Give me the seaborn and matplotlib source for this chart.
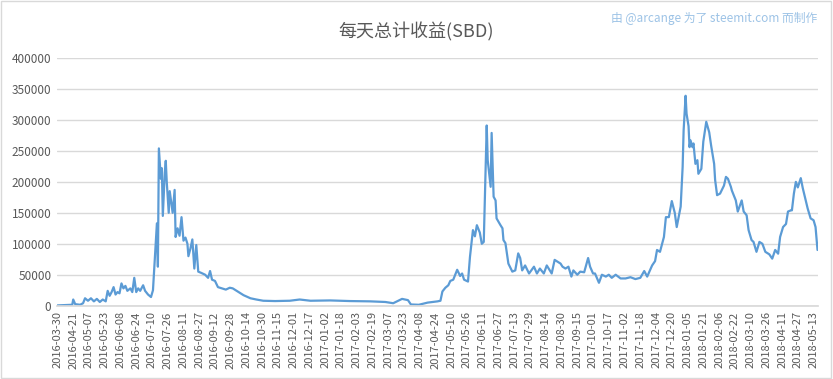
import numpy as np
import pandas as pd
import matplotlib
matplotlib.use("Agg")
import matplotlib.pyplot as plt
from matplotlib.patches import Rectangle
import seaborn as sns

sns.set_theme(style="white")
plt.rcParams['font.family'] = ['Noto Sans CJK SC', 'DejaVu Sans']

# category axis: one entry per day (2016-03-31 .. 04-05 are absent in the source)
days = ['2016-03-30'] + [d.strftime('%Y-%m-%d') for d in pd.date_range('2016-04-06', '2018-05-17')]
label_step = 16

# readings
sample_dates = [
    '2016-03-30', '2016-04-13', '2016-04-20', '2016-04-21', '2016-04-23', '2016-04-28',
    '2016-05-01', '2016-05-03', '2016-05-06', '2016-05-09', '2016-05-12', '2016-05-15',
    '2016-05-18', '2016-05-21', '2016-05-24', '2016-05-26', '2016-05-28', '2016-05-30',
    '2016-06-01', '2016-06-03', '2016-06-05', '2016-06-07', '2016-06-09', '2016-06-11',
    '2016-06-13', '2016-06-15', '2016-06-18', '2016-06-20', '2016-06-22', '2016-06-24',
    '2016-06-26', '2016-06-28', '2016-07-01', '2016-07-03', '2016-07-06', '2016-07-09',
    '2016-07-11', '2016-07-13', '2016-07-15', '2016-07-16', '2016-07-17', '2016-07-19',
    '2016-07-20', '2016-07-21', '2016-07-23', '2016-07-24', '2016-07-25', '2016-07-27',
    '2016-07-28', '2016-07-31', '2016-08-02', '2016-08-03', '2016-08-05', '2016-08-07',
    '2016-08-09', '2016-08-11', '2016-08-13', '2016-08-15', '2016-08-16', '2016-08-18',
    '2016-08-20', '2016-08-22', '2016-08-24', '2016-08-26', '2016-08-29', '2016-09-02',
    '2016-09-05', '2016-09-07', '2016-09-09', '2016-09-12', '2016-09-15', '2016-09-19',
    '2016-09-23', '2016-09-27', '2016-09-30', '2016-10-06', '2016-10-11', '2016-10-18',
    '2016-10-24', '2016-10-31', '2016-11-12', '2016-11-27', '2016-12-07', '2016-12-18',
    '2017-01-07', '2017-01-27', '2017-02-17', '2017-03-04', '2017-03-12', '2017-03-21',
    '2017-03-27', '2017-03-30', '2017-04-07', '2017-04-16', '2017-04-26', '2017-04-29',
    '2017-05-01', '2017-05-04', '2017-05-07', '2017-05-09', '2017-05-12', '2017-05-16',
    '2017-05-19', '2017-05-21', '2017-05-23', '2017-05-27', '2017-05-29', '2017-06-01',
    '2017-06-03', '2017-06-05', '2017-06-08', '2017-06-10', '2017-06-12', '2017-06-15',
    '2017-06-16', '2017-06-19', '2017-06-20', '2017-06-22', '2017-06-24', '2017-06-25',
    '2017-06-29', '2017-07-01', '2017-07-02', '2017-07-04', '2017-07-07', '2017-07-11',
    '2017-07-14', '2017-07-17', '2017-07-19', '2017-07-21', '2017-07-24', '2017-07-28',
    '2017-08-02', '2017-08-05', '2017-08-08', '2017-08-12', '2017-08-15', '2017-08-20',
    '2017-08-23', '2017-08-26', '2017-08-29', '2017-08-31', '2017-09-03', '2017-09-06',
    '2017-09-09', '2017-09-11', '2017-09-15', '2017-09-18', '2017-09-22', '2017-09-26',
    '2017-09-28', '2017-10-01', '2017-10-03', '2017-10-07', '2017-10-10', '2017-10-14',
    '2017-10-17', '2017-10-20', '2017-10-24', '2017-10-29', '2017-11-03', '2017-11-08',
    '2017-11-13', '2017-11-18', '2017-11-22', '2017-11-25', '2017-11-30', '2017-12-03',
    '2017-12-05', '2017-12-08', '2017-12-12', '2017-12-14', '2017-12-17', '2017-12-20',
    '2017-12-23', '2017-12-25', '2017-12-29', '2017-12-31', '2018-01-01', '2018-01-03',
    '2018-01-04', '2018-01-06', '2018-01-07', '2018-01-08', '2018-01-10', '2018-01-11',
    '2018-01-13', '2018-01-15', '2018-01-16', '2018-01-19', '2018-01-21', '2018-01-24',
    '2018-01-27', '2018-01-29', '2018-02-01', '2018-02-02', '2018-02-04', '2018-02-07',
    '2018-02-11', '2018-02-13', '2018-02-15', '2018-02-18', '2018-02-19', '2018-02-23',
    '2018-02-25', '2018-03-01', '2018-03-03', '2018-03-06', '2018-03-08', '2018-03-11',
    '2018-03-13', '2018-03-16', '2018-03-19', '2018-03-22', '2018-03-25', '2018-03-29',
    '2018-04-01', '2018-04-04', '2018-04-07', '2018-04-09', '2018-04-12', '2018-04-15',
    '2018-04-17', '2018-04-20', '2018-04-21', '2018-04-23', '2018-04-25', '2018-04-27',
    '2018-04-30', '2018-05-02', '2018-05-05', '2018-05-07', '2018-05-10', '2018-05-13',
    '2018-05-15', '2018-05-17',
]
income_sbd = [
    500, 1000, 1500, 10000, 2500, 1500,
    4000, 12000, 8000, 12000, 7000, 11000,
    6000, 10000, 7000, 24000, 16000, 22000,
    30000, 18000, 22000, 20000, 36000, 28000,
    32000, 24000, 28000, 22000, 45000, 22000,
    28000, 24000, 33000, 24000, 18000, 14000,
    25000, 78000, 133000, 63000, 254000, 205000,
    222000, 145000, 215000, 234000, 200000, 150000,
    185000, 150000, 187000, 111000, 125000, 113000,
    143000, 105000, 110000, 100000, 80000, 92000,
    107000, 60000, 98000, 55000, 53000, 50000,
    45000, 56000, 42000, 40000, 30000, 28000,
    26000, 29000, 28000, 22000, 17000, 12000,
    10000, 8000, 7500, 8000, 10000, 8000,
    8500, 7500, 7000, 6000, 4000, 11000,
    9000, 2000, 1500, 5000, 7000, 8000,
    23000, 29000, 33000, 40000, 42000, 58000,
    48000, 52000, 42000, 39000, 79000, 122000,
    112000, 130000, 118000, 100000, 103000, 291000,
    235000, 192000, 279000, 176000, 170000, 141000,
    130000, 125000, 106000, 101000, 68000, 55000,
    57000, 84500, 77000, 57000, 65000, 52000,
    63000, 52000, 60000, 52000, 65000, 52000,
    74000, 71000, 68000, 63000, 60000, 63000,
    47000, 57000, 50000, 55000, 54000, 77000,
    63000, 52000, 52000, 37000, 50000, 47000,
    50000, 45000, 50000, 44000, 44000, 46000,
    43000, 45000, 56000, 47000, 65000, 72000,
    90000, 87000, 111000, 143000, 143000, 169000,
    150000, 127000, 160000, 224000, 283000, 339000,
    310000, 290000, 256000, 267000, 256000, 262000,
    229000, 235000, 213000, 221000, 265000, 297000,
    280000, 258000, 229000, 203000, 178500, 181000,
    194000, 208000, 205000, 192000, 186000, 170000,
    152000, 170000, 152000, 146000, 122000, 106000,
    103000, 87000, 103000, 100000, 87000, 83000,
    76000, 90000, 84000, 111000, 127000, 132000,
    152000, 154000, 154000, 181000, 200000, 191000,
    206000, 190000, 170000, 157000, 141000, 138000,
    127000, 90000,
]

title = '每天总计收益(SBD)'
credit = '由 @arcange 为了 steemit.com 而制作'

df = pd.DataFrame({'date': sample_dates, 'sbd': income_sbd})
day_pos = {d: i for i, d in enumerate(days)}
df['pos'] = df['date'].map(day_pos)

fig = plt.figure(figsize=(8.33, 3.79), dpi=100)
ax = fig.add_axes([0.0684, 0.1934, 0.9136, 0.6536])

sns.lineplot(data=df, x='pos', y='sbd', ax=ax, color='#5B9BD5', linewidth=1.6)

ax.set_xlim(-0.5, len(days) - 0.5)
ax.set_ylim(0, 400000)
ax.set_yticks(np.arange(0, 400001, 50000))
ax.set_yticklabels([str(v) for v in range(0, 400001, 50000)], fontsize=8.5, color='#595959')
tick_pos = list(range(0, len(days), label_step))
ax.set_xticks(tick_pos)
ax.set_xticklabels([days[i] for i in tick_pos], rotation=90, fontsize=8, color='#595959')
ax.tick_params(axis='both', length=0, pad=4)
ax.yaxis.grid(True, color='#D9D9D9', linewidth=1)
ax.set_axisbelow(True)
for s in ['top', 'left', 'right']:
    ax.spines[s].set_visible(False)
ax.spines['bottom'].set_color('#D9D9D9')
ax.set_xlabel('')
ax.set_ylabel('')

fig.text(0.5, 0.915, title, ha='center', va='center', fontsize=13, color='#595959')
fig.text(0.981, 0.952, credit, ha='right', va='center', fontsize=8.5, color='#9DC3E6')
fig.patches.append(Rectangle((0.001, 0.002), 0.997, 0.995, transform=fig.transFigure,
                             fill=False, edgecolor='#D9D9D9', linewidth=1))

fig.savefig('out.png', dpi=100, facecolor='white')
